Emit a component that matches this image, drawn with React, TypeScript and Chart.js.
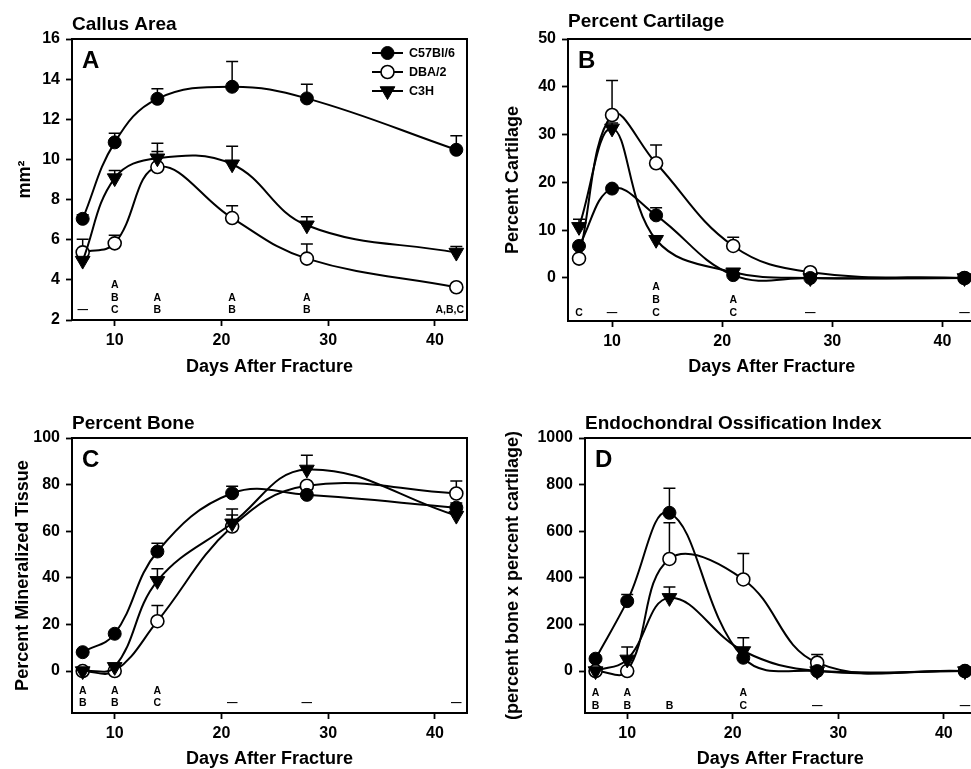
import React, { useEffect, useRef } from "react";
import { Chart, registerables } from "chart.js";

Chart.register(...registerables);

const FONT = "'Liberation Sans', Arial, Helvetica, sans-serif";

const days = [7, 10, 14, 21, 28, 42];
const xTicks = [10, 20, 30, 40];
const strainNames = ["C57Bl/6", "DBA/2", "C3H"];
const xTitle = "Days After Fracture";

// A — Callus Area
const callusC57 = [7.04, 10.85, 13.02, 13.62, 13.04, 10.48];
const callusC57Err = [0.2, 0.45, 0.5, 1.26, 0.7, 0.7];
const callusDBA = [5.37, 5.82, 9.62, 7.08, 5.06, 3.63];
const callusDBAErr = [0.65, 0.4, 0.78, 0.61, 0.73, 0.1];
const callusC3H = [4.96, 9.07, 10.06, 9.76, 6.72, 5.36];
const callusC3HErr = [0.1, 0.38, 0.75, 0.9, 0.43, 0.3];
const callusTicks = [2, 4, 6, 8, 10, 12, 14, 16];
const callusStats = ["—", "A\nB\nC", "A\nB", "A\nB", "A\nB", "A,B,C"];

// B — Percent Cartilage
const cartC57 = [6.7, 18.7, 13.1, 0.6, 0, 0];
const cartC57Err = [0.3, 0.5, 1.6, 0.3, 0.2, 0.2];
const cartDBA = [4.06, 34.1, 24.0, 6.7, 1.2, 0];
const cartDBAErr = [0.3, 7.2, 3.8, 1.8, 0.3, 0.1];
const cartC3H = [10.7, 31.3, 8.0, 1.2, 0, 0];
const cartC3HErr = [1.6, 1.1, 0.5, 0.4, 0.1, 0.1];
const cartTicks = [0, 10, 20, 30, 40, 50];
const cartStats = ["C", "—", "A\nB\nC", "A\nC", "—", "—"];

// C — Percent Bone
const boneC57 = [8.1, 16.0, 51.3, 76.3, 75.6, 70.1];
const boneC57Err = [0.5, 1.0, 3.5, 3.0, 1.0, 2.0];
const boneDBA = [0, 0, 21.4, 62.0, 79.5, 76.2];
const boneDBAErr = [0, 0, 6.7, 7.5, 1.0, 5.4];
const boneC3H = [0, 1.8, 38.7, 63.4, 86.5, 66.7];
const boneC3HErr = [0, 0.5, 5.2, 3.6, 6.1, 1.0];
const boneTicks = [0, 20, 40, 60, 80, 100];
const boneStats = ["A\nB", "A\nB", "A\nC", "—", "—", "—"];

// D — Endochondral Ossification Index
const eoiC57 = [53, 300, 679, 57, 0, 0];
const eoiC57Err = [5, 29, 105, 10, 5, 5];
const eoiDBA = [0, 0, 481, 393, 36, 0];
const eoiDBAErr = [0, 0, 155, 111, 35, 0];
const eoiC3H = [0, 50, 314, 86, 0, 0];
const eoiC3HErr = [0, 53, 47, 57, 0, 0];
const eoiTicks = [0, 200, 400, 600, 800, 1000];
const eoiStats = ["A\nB", "A\nB", "B", "A\nC", "—", "—"];

type Box = { left: number; top: number; w: number; h: number };
type Area = { left: number; top: number; right: number; bottom: number };

interface PanelCfg {
  title: string;
  letter: string;
  yTitle: string;
  box: Box;
  area: Area;
  yMin: number;
  yMax: number;
  yTicks: number[];
  values: number[][];
  errors: number[][];
  stats: string[];
  legend: boolean;
  titleBaseline: number;
  yTitleX: number;
  xTitleY: number;
  statsOffset: number;
  statsSpacing: number;
}

const panels: PanelCfg[] = [
  {
    title: "Callus Area", letter: "A", yTitle: "mm²",
    box: { left: 0, top: 0, w: 485, h: 400 },
    area: { left: 72, top: 39, right: 467, bottom: 320 },
    yMin: 2, yMax: 16, yTicks: callusTicks,
    values: [callusC57, callusDBA, callusC3H],
    errors: [callusC57Err, callusDBAErr, callusC3HErr],
    stats: callusStats, legend: true,
    titleBaseline: 8.6, yTitleX: 25, xTitleY: 367.5, statsOffset: 10, statsSpacing: 12.2,
  },
  {
    title: "Percent Cartilage", letter: "B", yTitle: "Percent Cartilage",
    box: { left: 485, top: 0, w: 500, h: 400 },
    area: { left: 568, top: 39, right: 978, bottom: 321 },
    yMin: -9, yMax: 50, yTicks: cartTicks,
    values: [cartC57, cartDBA, cartC3H],
    errors: [cartC57Err, cartDBAErr, cartC3HErr],
    stats: cartStats, legend: false,
    titleBaseline: 12, yTitleX: 28.3, xTitleY: 367.5, statsOffset: 8.3, statsSpacing: 12.7,
  },
  {
    title: "Percent Bone", letter: "C", yTitle: "Percent Mineralized Tissue",
    box: { left: 0, top: 385, w: 485, h: 400 },
    area: { left: 72, top: 438, right: 467, bottom: 713 },
    yMin: -18, yMax: 100, yTicks: boneTicks,
    values: [boneC57, boneDBA, boneC3H],
    errors: [boneC57Err, boneDBAErr, boneC3HErr],
    stats: boneStats, legend: false,
    titleBaseline: 8.7, yTitleX: 23, xTitleY: 759.5, statsOffset: 10, statsSpacing: 11.5,
  },
  {
    title: "Endochondral Ossification Index", letter: "D", yTitle: "(percent bone x percent cartilage)",
    box: { left: 485, top: 385, w: 500, h: 400 },
    area: { left: 585, top: 438, right: 979, bottom: 713 },
    yMin: -180, yMax: 1000, yTicks: eoiTicks,
    values: [eoiC57, eoiDBA, eoiC3H],
    errors: [eoiC57Err, eoiDBAErr, eoiC3HErr],
    stats: eoiStats, legend: false,
    titleBaseline: 8.7, yTitleX: 28.3, xTitleY: 759.5, statsOffset: 6.5, statsSpacing: 13,
  },
];

const seriesStyles = [
  { pointStyle: "circle", pointRadius: 6.5, pointBackgroundColor: "#000", pointBorderWidth: 1, rotation: 0, order: 1 },
  { pointStyle: "circle", pointRadius: 6.5, pointBackgroundColor: "#fff", pointBorderWidth: 1.6, rotation: 0, order: 2 },
  { pointStyle: "triangle", pointRadius: 8.5, pointBackgroundColor: "#000", pointBorderWidth: 1, rotation: 180, order: 0 },
];

function drawMarker(ctx: CanvasRenderingContext2D, i: number, x: number, y: number) {
  const st = seriesStyles[i];
  ctx.save();
  ctx.beginPath();
  if (st.pointStyle === "triangle") {
    const r = st.pointRadius;
    const s = Math.sin(Math.PI / 3) * r;
    ctx.moveTo(x, y + r);
    ctx.lineTo(x - s, y - r / 2);
    ctx.lineTo(x + s, y - r / 2);
    ctx.closePath();
  } else {
    ctx.arc(x, y, st.pointRadius, 0, Math.PI * 2);
  }
  ctx.fillStyle = st.pointBackgroundColor;
  ctx.fill();
  ctx.lineWidth = st.pointBorderWidth;
  ctx.strokeStyle = "#000";
  ctx.stroke();
  ctx.restore();
}

function makeDecor(cfg: PanelCfg) {
  return {
    id: "panelDecor",
    beforeDatasetsDraw(chart: any) {
      const ctx: CanvasRenderingContext2D = chart.ctx;
      const xs = chart.scales.x;
      const ys = chart.scales.y;
      ctx.save();
      ctx.strokeStyle = "#000";
      ctx.lineWidth = 1.5;
      cfg.values.forEach((vals, i) => {
        vals.forEach((v, j) => {
          const e = cfg.errors[i][j];
          if (!e) return;
          const x = xs.getPixelForValue(days[j]);
          const y0 = ys.getPixelForValue(v);
          const y1 = ys.getPixelForValue(v + e);
          ctx.beginPath();
          ctx.moveTo(x, y0);
          ctx.lineTo(x, y1);
          ctx.moveTo(x - 6, y1);
          ctx.lineTo(x + 6, y1);
          ctx.stroke();
        });
      });
      ctx.restore();
    },
    afterDraw(chart: any) {
      const ctx: CanvasRenderingContext2D = chart.ctx;
      const ca = chart.chartArea;
      const xs = chart.scales.x;
      ctx.save();
      // frame
      ctx.strokeStyle = "#000";
      ctx.lineWidth = 2;
      ctx.strokeRect(ca.left, ca.top, ca.right - ca.left, ca.bottom - ca.top);
      // panel title
      ctx.fillStyle = "#000";
      ctx.textAlign = "left";
      ctx.textBaseline = "alphabetic";
      ctx.font = `bold 19px ${FONT}`;
      ctx.fillText(cfg.title, ca.left, ca.top - cfg.titleBaseline);
      // letter
      ctx.font = `bold 24px ${FONT}`;
      ctx.fillText(cfg.letter, ca.left + 10, ca.top + 29);
      // stats
      ctx.font = `bold 10.5px ${FONT}`;
      ctx.textAlign = "center";
      ctx.textBaseline = "middle";
      cfg.stats.forEach((s, j) => {
        const lines = s.split("\n");
        const xTick = xs.getPixelForValue(days[j]);
        lines.forEach((ln, k) => {
          const w = ctx.measureText(ln).width;
          let x = xTick;
          if (w > 14 && x + w / 2 > ca.right - 3) x = ca.right - 3 - w / 2;
          const y = ca.bottom - cfg.statsOffset - (lines.length - 1 - k) * cfg.statsSpacing;
          ctx.fillText(ln, x, y);
        });
      });
      // legend
      if (cfg.legend) {
        ctx.font = `bold 12.5px ${FONT}`;
        ctx.textAlign = "left";
        strainNames.forEach((name, i) => {
          const y = ca.top + 14 + i * 19;
          ctx.beginPath();
          ctx.lineWidth = 2;
          ctx.moveTo(ca.right - 95, y);
          ctx.lineTo(ca.right - 64, y);
          ctx.stroke();
          drawMarker(ctx, i, ca.right - 79.5, y);
          ctx.fillStyle = "#000";
          ctx.fillText(name, ca.right - 58, y + 0.5);
        });
      }
      ctx.restore();
    },
  };
}

function Panel({ cfg }: { cfg: PanelCfg }) {
  const ref = useRef<HTMLCanvasElement>(null);
  useEffect(() => {
    const canvas = ref.current!;
    const { box, area } = cfg;
    const relLeft = area.left - box.left;
    const relTop = area.top - box.top;
    const relRight = box.w - (area.right - box.left);
    const xAxisH = box.h - (area.bottom - box.top);
    const titleLH = 18 * 1.2;
    const xTitlePad = box.top + box.h - cfg.xTitleY - titleLH / 2;
    const yTitlePad = cfg.yTitleX - titleLH / 2;
    const tickFont = { family: FONT, size: 16, weight: "bold" as const };
    const titleFont = { family: FONT, size: 18, weight: "bold" as const, lineHeight: 1.2 };
    const gridCommon = {
      display: true,
      drawOnChartArea: false,
      drawTicks: true,
      tickLength: 6,
      tickColor: "#000",
      tickWidth: 1.8,
      color: "#000",
    };
    const chart = new Chart(canvas, {
      type: "line",
      data: {
        datasets: cfg.values.map((vals, i) => ({
          label: strainNames[i],
          data: days.map((d, j) => ({ x: d, y: vals[j] })),
          borderColor: "#000",
          borderWidth: 2,
          tension: 0.4,
          fill: false,
          clip: false as any,
          pointStyle: seriesStyles[i].pointStyle as any,
          pointRadius: seriesStyles[i].pointRadius,
          pointBackgroundColor: seriesStyles[i].pointBackgroundColor,
          pointBorderColor: "#000",
          pointBorderWidth: seriesStyles[i].pointBorderWidth,
          pointRotation: seriesStyles[i].rotation,
          order: seriesStyles[i].order,
        })),
      },
      options: {
        responsive: false,
        animation: false,
        devicePixelRatio: 1,
        events: [],
        layout: { padding: { left: 0, top: relTop, right: relRight, bottom: 0 } },
        plugins: {
          legend: { display: false },
          tooltip: { enabled: false },
          title: { display: false },
        },
        scales: {
          x: {
            type: "linear",
            position: "bottom",
            min: 6,
            max: 43,
            afterBuildTicks: (ax: any) => {
              ax.ticks = xTicks.map((v) => ({ value: v }));
            },
            afterFit: (ax: any) => {
              ax.height = xAxisH;
            },
            grid: gridCommon,
            border: { display: false },
            ticks: {
              font: tickFont, color: "#000", padding: 5, maxRotation: 0, autoSkip: false,
              callback: (v: any) => String(v),
            },
            title: {
              display: true,
              text: xTitle,
              color: "#000",
              font: titleFont,
              padding: { top: 0, bottom: xTitlePad },
            },
          },
          y: {
            type: "linear",
            position: "left",
            min: cfg.yMin,
            max: cfg.yMax,
            afterBuildTicks: (ax: any) => {
              ax.ticks = cfg.yTicks.map((v) => ({ value: v }));
            },
            afterFit: (ax: any) => {
              ax.width = relLeft;
            },
            grid: gridCommon,
            border: { display: false },
            ticks: {
              font: tickFont, color: "#000", padding: 6, autoSkip: false,
              callback: (v: any) => String(v),
            },
            title: {
              display: true,
              text: cfg.yTitle,
              color: "#000",
              font: titleFont,
              padding: { top: yTitlePad, bottom: 0 },
            },
          },
        },
      } as any,
      plugins: [makeDecor(cfg)],
    });
    return () => chart.destroy();
  }, [cfg]);
  return (
    <canvas
      ref={ref}
      width={cfg.box.w}
      height={cfg.box.h}
      style={{
        position: "absolute",
        left: cfg.box.left,
        top: cfg.box.top,
        width: cfg.box.w,
        height: cfg.box.h,
      }}
    />
  );
}

export default function App() {
  return (
    <div
      style={{
        position: "fixed",
        left: 0,
        top: 0,
        width: 971,
        height: 769,
        overflow: "hidden",
        background: "#fff",
      }}
    >
      {panels.map((p) => (
        <Panel key={p.letter} cfg={p} />
      ))}
    </div>
  );
}
